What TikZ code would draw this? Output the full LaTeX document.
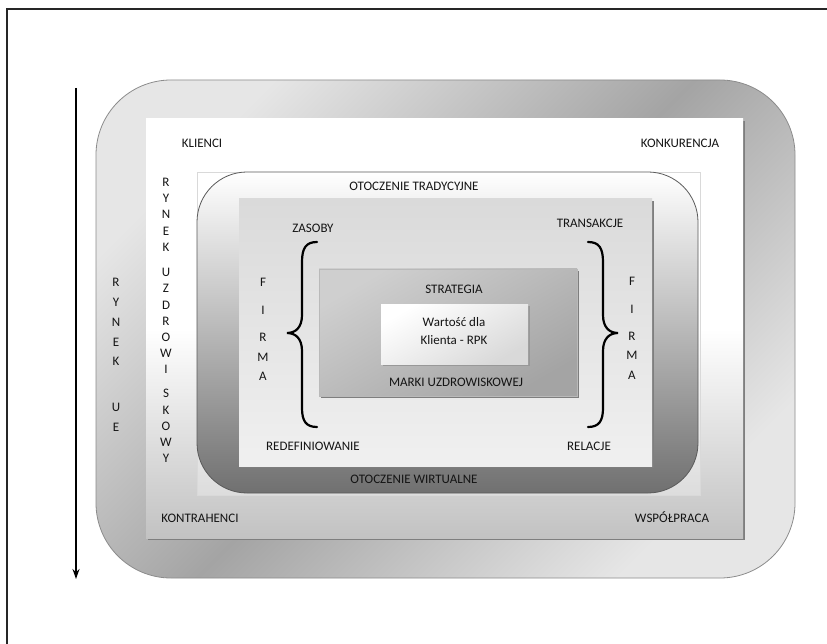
\documentclass[tikz,border=0pt]{standalone}
\usepackage{fontspec}
\setmainfont{Carlito}
\usetikzlibrary{arrows.meta}
\definecolor{txt}{HTML}{141414}
\definecolor{bandlight}{HTML}{E6E6E6}
\definecolor{banddark}{HTML}{A4A4A4}
\definecolor{bandline}{HTML}{8C8C8C}
\definecolor{mkbot}{HTML}{C2C2C2}
\definecolor{envbot}{HTML}{707070}
\definecolor{envline}{HTML}{5A5A5A}
\definecolor{firmtop}{HTML}{DADADA}
\definecolor{firmbot}{HTML}{F0F0F0}
\definecolor{stratlight}{HTML}{CFCFCF}
\definecolor{stratdark}{HTML}{A4A4A4}
\definecolor{shadowc}{HTML}{7E7E7E}
\begin{document}
\begin{tikzpicture}[x=1pt,y=-1pt,
  lbl/.style={font=\fontsize{13}{16}\selectfont, text=txt, inner sep=0pt, anchor=center},
  shadowbox/.style={fill=shadowc},
  brace/.style={line width=2.2pt, line cap=round, black}]
\useasboundingbox (0,0) rectangle (827,644);
\fill[white] (0,0) rectangle (827,644);

% page frame
\draw[line width=1.5pt, black!85] (7,650) -- (7,9) -- (830,9);

% outer band: market of the EU
\shadedraw[rounded corners=75pt, draw=bandline, line width=0.8pt,
  left color=bandlight, right color=bandlight, middle color=banddark, shading angle=45]
  (96,80) rectangle (795,578);

% spa market rectangle
\fill[shadowbox] (148,121) rectangle (745,540);
\shade[top color=white, bottom color=mkbot, middle color=white] (146,119) rectangle (743,538);

% faint square behind the environment frame
\fill[white, opacity=0.3] (197,172) rectangle (700,495);
\draw[white!85!black, line width=0.5pt] (197,172) rectangle (700,495);

% environment frame (traditional / virtual)
\shadedraw[rounded corners=50pt, draw=envline, line width=0.8pt,
  top color=white, bottom color=envbot] (197,172) rectangle (698,493);

% company square
\fill[shadowbox] (241,201) rectangle (654,468);
\shade[top color=firmtop, bottom color=firmbot] (239,199) rectangle (652,466);

% strategy box
\fill[shadowbox] (321,271) rectangle (579,398);
\shadedraw[draw=gray!55, line width=0.6pt, left color=stratlight, right color=stratdark, shading angle=30]
  (319,269) rectangle (577,396);

% value box
\fill[shadowc!80] (383,306) rectangle (530,366);
\shade[left color=white, right color=white!85!black, shading angle=30] (381,304) rectangle (528,364);

% arrow along the EU market side
\coordinate (arrTop) at (76,88);
\coordinate (arrBot) at (76,579);
\draw[line width=1.5pt, -{Stealth[length=10pt,width=7pt]}] (arrTop) -- (arrBot);

% braces
\draw[brace] (317,242) .. controls (306,242) and (302,248) .. (302,262) -- (302,315)
  .. controls (302,327) and (296,333) .. (287,333)
  .. controls (296,333) and (302,339) .. (302,351) -- (302,408)
  .. controls (302,421) and (306,427) .. (317,427);
\draw[brace] (588,242) .. controls (599,242) and (603,248) .. (603,262) -- (603,315)
  .. controls (603,327) and (609,333) .. (618,333)
  .. controls (609,333) and (603,339) .. (603,351) -- (603,408)
  .. controls (603,421) and (599,427) .. (588,427);

% labels
\node[lbl] (klienci) at (202,143) {KLIENCI};
\node[lbl] (konk) at (680,143) {KONKURENCJA};
\node[lbl] (trad) at (414,186) {OTOCZENIE TRADYCYJNE};
\node[lbl] (zasoby) at (313,228) {ZASOBY};
\node[lbl] (trans) at (590,223) {TRANSAKCJE};
\node[lbl] (strat) at (454,289) {STRATEGIA};
\node[lbl, align=center, font=\fontsize{13}{18}\selectfont] (wartosc) at (454,331) {Wartość dla\\Klienta - RPK};
\node[lbl] (marki) at (456,382) {MARKI UZDROWISKOWEJ};
\node[lbl] (redef) at (313,446) {REDEFINIOWANIE};
\node[lbl] (relacje) at (589,446) {RELACJE};
\node[lbl] (wirt) at (414,479) {OTOCZENIE WIRTUALNE};
\node[lbl] (kontr) at (200,518) {KONTRAHENCI};
\node[lbl] (wspol) at (672,517) {WSPÓŁPRACA};

% vertical letter columns
\foreach \ch/\yy [count=\i] in {R/182,Y/198,N/214,E/231,K/247,U/272,Z/288,D/305,R/321,O/337,W/353,I/369,S/393,K/410,O/426,W/442,Y/458}
  \node[lbl] (ru-\i) at (166,\yy) {\ch};
\foreach \ch/\yy [count=\i] in {R/282,Y/302,N/322,E/342,K/361,U/407,E/427}
  \node[lbl] (ue-\i) at (116,\yy) {\ch};
\foreach \ch/\yy [count=\i] in {F/282,I/310,R/337,M/357,A/376}
  \node[lbl] (fl-\i) at (263,\yy) {\ch};
\foreach \ch/\yy [count=\i] in {F/281,I/309,R/336,M/355,A/375}
  \node[lbl] (fr-\i) at (632,\yy) {\ch};
\end{tikzpicture}
\end{document}
